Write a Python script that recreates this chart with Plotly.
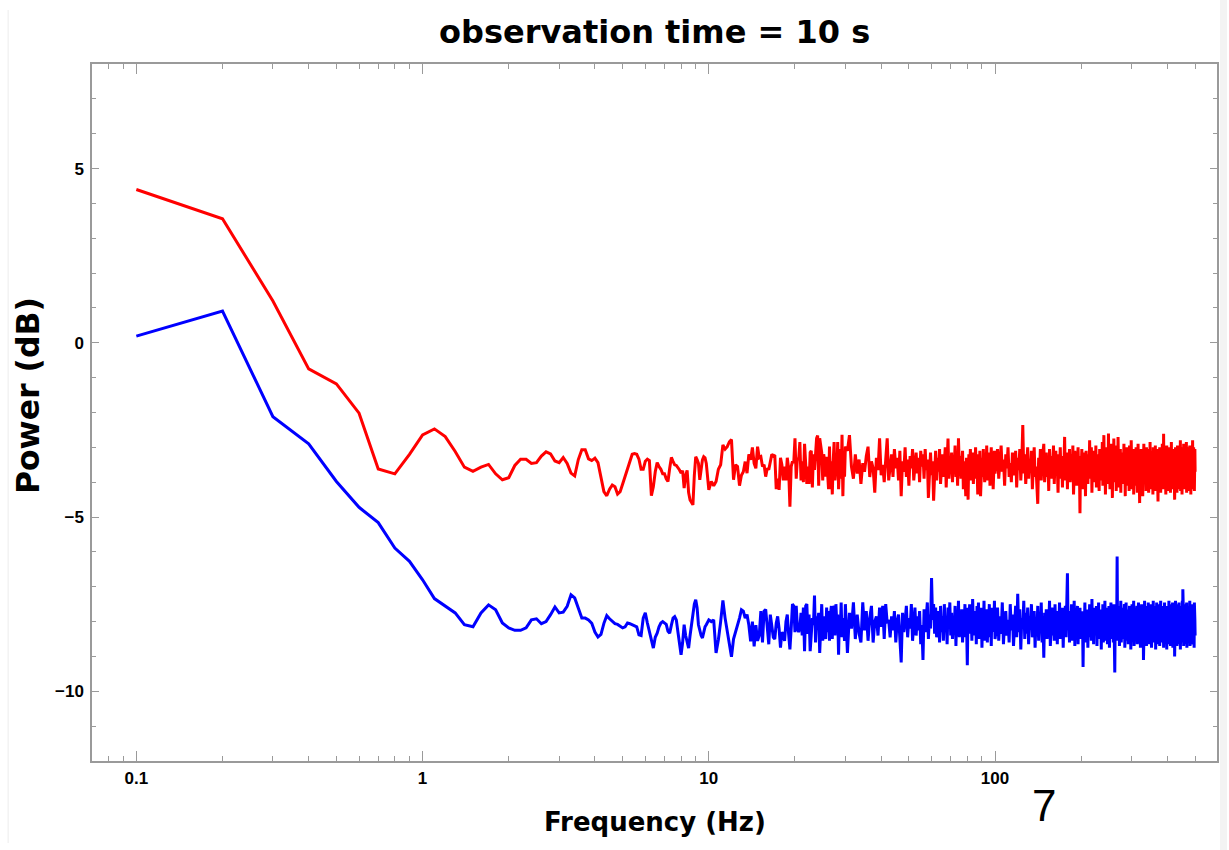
import numpy as np
import plotly.graph_objects as go

# ---------------- data ----------------
# frequency grids (Hz): 0.1 Hz bins up to 10 Hz, then coarser subsets of the bins
f_low = [round(0.1 * k, 1) for k in range(1, 101)]          # 0.1 .. 10.0
f_a = [round(10.0 + 0.2 * k, 1) for k in range(1, 101)]     # 10.2 .. 30.0
f_b = [round(30.0 + 0.5 * k, 1) for k in range(1, 141)]     # 30.5 .. 100.0
f_c = [float(100 + k) for k in range(1, 401)]               # 101 .. 500

red_low = [
    4.40, 3.56, 1.20, -0.75, -1.18, -2.02, -3.62, -3.76, -3.20, -2.64,
    -2.47, -2.69, -3.12, -3.57, -3.69, -3.57, -3.49, -3.76, -3.93, -3.87,
    -3.52, -3.34, -3.34, -3.46, -3.44, -3.25, -3.13, -3.19, -3.39, -3.44,
    -3.29, -3.46, -3.74, -3.82, -3.35, -3.07, -3.07, -3.33, -3.38, -3.31,
    -3.44, -3.84, -4.27, -4.39, -4.20, -4.08, -4.13, -4.34, -4.27, -4.05,
    -3.84, -3.65, -3.45, -3.20, -3.18, -3.20, -3.34, -3.63, -3.63, -3.40,
    -3.34, -3.38, -4.39, -4.13, -3.70, -3.44, -3.55, -3.63, -3.76, -3.76,
    -3.90, -3.98, -3.60, -3.29, -3.40, -3.50, -3.52, -3.57, -3.65, -3.74,
    -3.67, -4.17, -3.80, -3.66, -4.30, -4.51, -4.60, -4.65, -3.80, -3.27,
    -3.35, -3.46, -3.93, -3.70, -3.36, -3.27, -3.30, -3.46, -3.90, -4.22,
]
blue_low = [
    0.19, 0.91, -2.12, -2.90, -3.98, -4.72, -5.16, -5.89, -6.27, -6.80,
    -7.34, -7.56, -7.75, -8.09, -8.15, -7.75, -7.52, -7.66, -8.04, -8.18,
    -8.25, -8.25, -8.18, -7.95, -7.92, -8.06, -8.00, -7.80, -7.58, -7.75,
    -7.73, -7.56, -7.23, -7.32, -7.60, -7.90, -7.90, -7.95, -8.05, -8.30,
    -8.44, -8.37, -8.05, -7.83, -7.92, -8.00, -8.06, -8.08, -8.12, -8.18,
    -8.15, -8.04, -8.06, -8.09, -8.12, -8.15, -8.38, -8.40, -7.90, -7.75,
    -8.04, -8.30, -8.55, -8.76, -8.45, -8.33, -8.15, -8.04, -8.00, -8.05,
    -8.08, -8.28, -8.33, -8.10, -7.90, -7.86, -7.95, -8.30, -8.60, -8.95,
    -8.60, -8.09, -8.40, -8.60, -8.76, -8.40, -8.10, -7.80, -7.50, -7.37,
    -7.60, -8.09, -8.30, -8.40, -8.47, -8.30, -8.15, -8.09, -8.00, -7.95,
]

red_a = [
    -3.98, -4.10, -3.98, -3.63, -3.50, -2.93, -3.05, -2.98, -2.84, -2.78,
    -3.93, -3.50, -3.55, -4.10, -3.80, -3.70, -3.41, -3.74, -3.20, -3.36,
    -3.00, -3.46, -3.60, -2.98, -3.30, -3.27, -3.55, -3.50, -3.84, -3.60,
    -3.64, -3.40, -3.20, -3.25, -3.22, -4.20, -3.90, -4.22, -3.30, -3.50,
    -3.95, -3.55, -3.95, -3.30, -3.60, -4.70, -3.55, -3.40, -3.45, -2.74,
    -3.90, -3.30, -3.35, -2.85, -3.95, -3.40, -4.00, -2.90, -3.40, -4.05,
    -3.55, -4.05, -3.15, -3.10, -4.15, -3.20, -3.65, -3.15, -2.74, -2.66,
    -4.10, -2.74, -2.98, -3.15, -3.95, -3.20, -3.40, -3.84, -3.27, -3.65,
    -4.20, -2.98, -4.20, -3.40, -4.35, -3.40, -2.85, -3.95, -3.55, -3.80,
    -2.85, -4.20, -3.45, -3.05, -3.90, -2.64, -4.40, -3.30, -3.84, -2.98,
]
blue_a = [
    -8.00, -7.95, -8.90, -8.52, -8.00, -7.39, -7.90, -8.30, -8.60, -9.01,
    -8.50, -8.30, -8.15, -7.90, -7.66, -7.70, -7.90, -7.80, -8.10, -8.57,
    -8.00, -8.71, -8.10, -8.55, -8.40, -7.70, -8.60, -7.70, -7.65, -8.20,
    -8.65, -7.80, -8.20, -8.45, -8.50, -8.05, -7.85, -8.20, -8.75, -8.30,
    -8.40, -8.55, -8.00, -7.80, -8.35, -8.80, -8.20, -7.50, -7.55, -8.30,
    -7.55, -8.20, -8.30, -8.15, -7.75, -8.40, -7.60, -8.85, -7.55, -7.50,
    -8.35, -7.80, -8.85, -8.25, -7.90, -8.10, -7.25, -8.60, -7.85, -8.05,
    -7.75, -8.90, -7.80, -7.50, -8.55, -7.85, -8.35, -8.50, -7.60, -8.30,
    -7.70, -8.55, -7.80, -7.55, -8.50, -7.55, -7.60, -8.40, -7.50, -8.10,
    -7.80, -8.95, -7.85, -8.20, -7.45, -8.45, -7.90, -8.35, -8.55, -7.50,
]

red_b = [
    -3.10, -2.65, -3.55, -3.90, -3.20, -3.75, -3.35, -4.05, -3.45, -3.70,
    -3.25, -2.98, -3.85, -3.40, -3.60, -4.30, -3.30, -3.65, -2.74, -3.80,
    -3.50, -4.00, -3.35, -2.74, -3.95, -3.45, -3.20, -3.85, -3.05, -3.60,
    -3.30, -3.95, -3.10, -4.40, -3.40, -3.70, -3.00, -3.85, -3.35, -4.10,
    -3.25, -3.60, -3.05, -3.95, -3.40, -3.15, -3.75, -3.30, -4.00, -3.10,
    -3.55, -3.20, -3.90, -3.05, -3.65, -3.35, -4.45, -3.50, -3.15, -3.80,
    -3.40, -4.53, -3.55, -3.10, -3.95, -3.30, -3.70, -3.05, -4.05, -3.45,
    -3.20, -3.85, -3.50, -3.00, -4.15, -3.35, -2.75, -3.90, -3.45, -3.70,
    -3.15, -4.00, -3.40, -3.60, -2.95, -3.85, -3.30, -4.10, -2.74, -3.55,
    -3.25, -3.90, -3.50, -3.10, -4.20, -3.40, -3.75, -4.40, -3.30, -3.60,
    -4.50, -3.20, -3.70, -3.05, -3.95, -3.45, -3.15, -4.05, -3.35, -3.65,
    -3.00, -3.90, -3.50, -4.35, -3.20, -3.75, -3.10, -4.40, -3.45, -3.30,
    -3.85, -3.05, -3.60, -4.00, -3.25, -3.70, -2.95, -3.95, -3.40, -3.55,
    -3.15, -4.10, -3.50, -3.00, -3.80, -3.35, -4.20, -3.45, -3.10, -3.75,
]
blue_b = [
    -8.90, -7.75, -8.20, -7.45, -8.50, -7.80, -8.35, -8.60, -7.45, -8.25,
    -7.70, -8.55, -7.90, -7.55, -8.60, -8.00, -7.85, -8.40, -7.60, -8.15,
    -7.55, -8.50, -7.50, -8.05, -7.95, -8.45, -7.85, -8.25, -7.70, -8.60,
    -8.00, -7.80, -8.35, -9.17, -7.75, -8.30, -8.00, -7.55, -8.45, -7.90,
    -8.20, -7.50, -8.55, -7.95, -7.60, -8.40, -7.85, -8.25, -7.70, -8.65,
    -8.10, -9.10, -7.65, -8.30, -7.90, -7.45, -8.50, -7.80, -8.20, -6.75,
    -7.95, -7.50, -8.35, -7.60, -8.45, -8.05, -7.70, -8.60, -7.55, -8.30,
    -7.85, -8.55, -7.50, -8.20, -7.95, -8.65, -7.60, -8.10, -7.45, -8.40,
    -7.75, -8.50, -7.90, -8.25, -7.55, -8.70, -7.85, -8.15, -7.40, -8.45,
    -7.95, -8.30, -7.65, -8.60, -7.80, -8.10, -7.50, -8.45, -8.00, -9.25,
    -7.60, -8.35, -7.50, -8.20, -7.85, -8.55, -7.35, -8.10, -7.95, -8.40,
    -7.70, -8.65, -7.55, -8.25, -7.45, -8.50, -7.90, -8.15, -7.60, -8.75,
    -7.85, -8.30, -7.40, -8.55, -7.95, -8.20, -7.65, -8.60, -7.80, -8.05,
    -7.50, -8.45, -7.90, -8.70, -7.60, -8.30, -7.85, -8.15, -7.40, -8.50,
]

red_c = [
    -3.40, -3.05, -3.90, -3.25, -2.95, -3.70, -3.35, -4.10, -3.20, -3.60,
    -3.00, -3.85, -3.45, -4.00, -3.15, -3.55, -3.80, -3.10, -4.15, -3.30,
    -3.65, -3.05, -3.95, -3.40, -2.36, -3.75, -3.20, -4.05, -3.50, -3.00,
    -3.90, -3.35, -3.70, -3.10, -4.20, -3.45, -3.00, -3.85, -3.55, -4.10,
    -4.62, -3.30, -3.70, -3.05, -3.95, -3.40, -3.20, -2.90, -4.00, -3.50,
    -3.15, -3.85, -3.35, -4.25, -3.05, -3.60, -3.90, -3.25, -3.70, -2.95,
    -4.05, -3.45, -3.10, -3.80, -3.55, -4.30, -3.20, -3.65, -3.00, -3.90,
    -3.40, -4.15, -3.25, -3.60, -2.70, -3.95, -3.50, -3.15, -4.20, -3.35,
    -3.75, -3.05, -4.00, -3.45, -3.20, -3.85, -2.95, -4.35, -3.55, -3.10,
    -3.90, -3.30, -4.10, -3.60, -3.00, -3.75, -3.40, -4.89, -3.25, -3.65,
    -3.05, -4.20, -3.50, -3.15, -3.95, -3.35, -4.40, -3.10, -3.70, -3.45,
    -4.05, -3.20, -3.80, -2.80, -3.90, -3.55, -3.00, -4.30, -3.40, -3.65,
    -3.10, -4.00, -3.30, -3.75, -2.95, -4.15, -3.50, -3.20, -3.85, -3.40,
    -4.25, -3.05, -3.60, -3.95, -3.15, -3.70, -2.85, -4.10, -3.45, -2.65,
    -3.80, -3.25, -4.35, -3.50, -3.00, -3.90, -3.35, -4.05, -2.60, -3.75,
    -3.20, -4.20, -3.55, -2.90, -3.85, -3.40, -4.45, -3.10, -3.65, -2.75,
    -4.00, -3.30, -3.70, -2.95, -4.25, -3.50, -3.05, -3.90, -2.70, -3.60,
    -4.15, -3.35, -3.80, -3.05, -4.30, -3.45, -3.15, -3.95, -3.25, -4.05,
    -3.55, -2.90, -3.85, -3.40, -4.40, -3.10, -3.70, -3.00, -4.10, -3.50,
    -3.20, -3.95, -3.35, -4.25, -2.95, -3.75, -3.45, -4.05, -2.80, -3.65,
    -4.20, -3.30, -3.90, -3.05, -4.35, -3.55, -3.15, -3.85, -3.40, -4.10,
    -3.00, -3.70, -3.25, -4.30, -3.50, -2.90, -4.00, -3.35, -3.80, -4.60,
    -3.20, -3.95, -3.45, -3.05, -4.15, -3.60, -3.10, -4.40, -3.30, -3.75,
    -2.90, -4.05, -3.50, -3.20, -3.90, -3.40, -4.25, -3.00, -3.65, -4.10,
    -3.35, -3.85, -3.05, -4.30, -3.55, -3.15, -3.95, -2.85, -4.20, -3.45,
    -3.70, -3.10, -4.05, -3.40, -3.25, -4.35, -3.00, -3.80, -3.50, -4.15,
    -3.20, -3.90, -2.95, -4.25, -3.60, -3.30, -4.00, -3.05, -3.75, -3.45,
    -4.55, -3.15, -3.85, -3.40, -4.10, -3.00, -3.70, -3.25, -4.30, -3.55,
    -3.10, -4.05, -3.45, -2.90, -3.95, -3.35, -4.20, -2.61, -3.80, -3.50,
    -4.15, -3.05, -3.65, -3.30, -4.35, -3.15, -3.90, -2.95, -4.05, -3.45,
    -3.70, -3.20, -4.25, -3.00, -3.85, -3.40, -4.10, -3.10, -3.60, -4.30,
    -3.25, -3.95, -2.85, -4.00, -3.50, -3.15, -4.20, -3.35, -3.75, -3.05,
    -4.15, -3.45, -3.90, -4.50, -3.20, -3.65, -3.00, -4.05, -3.40, -3.80,
    -3.10, -4.30, -3.55, -2.95, -3.95, -3.30, -4.20, -3.05, -3.70, -3.45,
    -4.10, -3.15, -3.85, -2.80, -4.25, -3.50, -3.20, -3.90, -3.00, -4.35,
    -3.40, -3.75, -3.10, -4.05, -3.55, -2.90, -4.20, -3.30, -3.65, -3.95,
    -3.05, -4.15, -3.45, -3.20, -3.85, -2.85, -4.30, -3.50, -3.10, -3.90,
    -4.00, -3.35, -3.70, -3.00, -4.25, -3.45, -3.15, -3.80, -2.95, -4.10,
    -3.60, -3.25, -4.35, -3.05, -3.75, -3.40, -4.20, -3.10, -3.55, -2.80,
    -3.95, -3.30, -4.10, -3.00, -3.85, -3.50, -4.25, -3.15, -3.05, -3.70,
]
blue_c = [
    -8.20, -7.60, -8.55, -7.85, -8.35, -7.45, -8.65, -8.00, -7.70, -8.40,
    -7.95, -8.60, -7.50, -8.25, -7.80, -8.70, -8.05, -7.55, -8.45, -7.20,
    -8.30, -7.65, -8.80, -7.90, -8.15, -7.40, -8.50, -7.75, -8.35, -7.60,
    -8.65, -7.85, -8.20, -7.50, -8.45, -8.00, -7.70, -8.75, -7.95, -8.30,
    -7.55, -8.55, -7.80, -8.25, -7.45, -8.60, -7.90, -9.04, -7.75, -8.35,
    -7.65, -8.50, -7.85, -8.15, -7.40, -8.70, -8.05, -7.60, -8.40, -7.80,
    -8.55, -7.50, -8.30, -7.95, -8.65, -7.70, -8.20, -7.45, -8.50, -7.85,
    -8.35, -7.60, -8.75, -7.90, -8.10, -7.55, -8.45, -7.80, -6.61, -8.25,
    -7.70, -8.60, -7.95, -8.30, -7.50, -8.55, -7.85, -8.20, -7.40, -8.70,
    -7.75, -8.40, -8.00, -7.55, -8.65, -7.90, -8.25, -7.60, -8.50, -7.80,
    -8.35, -7.70, -9.30, -7.85, -8.15, -7.45, -8.60, -7.95, -8.30, -7.65,
    -8.75, -7.80, -8.20, -7.50, -8.45, -7.90, -8.55, -7.35, -8.25, -7.85,
    -8.65, -7.60, -8.40, -7.95, -8.10, -7.55, -8.70, -7.80, -8.35, -7.45,
    -8.50, -7.90, -8.20, -7.65, -8.80, -7.75, -8.30, -7.50, -8.60, -7.95,
    -8.15, -7.40, -8.55, -7.85, -8.40, -7.60, -8.65, -7.80, -8.25, -7.55,
    -8.75, -7.90, -8.35, -7.45, -8.50, -7.70, -8.20, -7.85, -8.60, -7.50,
    -8.30, -9.46, -7.80, -8.45, -7.65, -8.15, -6.13, -8.55, -7.75, -8.35,
    -7.55, -8.70, -7.90, -8.25, -7.40, -8.60, -7.85, -8.10, -7.60, -8.50,
    -7.95, -8.30, -7.50, -8.75, -7.80, -8.20, -7.45, -8.55, -7.90, -8.40,
    -7.65, -8.65, -7.85, -8.15, -7.55, -8.45, -7.75, -8.80, -7.95, -8.30,
    -7.50, -8.55, -7.80, -8.25, -7.40, -8.70, -7.90, -8.35, -7.60, -8.50,
    -7.85, -8.20, -7.55, -8.65, -7.75, -8.40, -7.45, -8.60, -7.95, -8.15,
    -7.60, -8.75, -7.85, -8.30, -7.50, -8.55, -7.80, -8.45, -7.65, -9.10,
    -7.90, -8.25, -7.40, -8.60, -7.85, -8.35, -7.55, -8.70, -7.75, -8.20,
    -7.95, -8.50, -7.45, -8.65, -7.80, -8.30, -7.60, -8.55, -7.90, -8.15,
    -7.50, -8.75, -7.85, -8.40, -7.65, -8.25, -7.40, -8.60, -7.95, -8.35,
    -7.70, -8.55, -7.55, -8.80, -7.90, -8.20, -7.45, -8.65, -7.80, -8.30,
    -7.60, -8.50, -7.85, -8.45, -7.50, -8.70, -7.75, -8.15, -7.40, -8.60,
    -7.95, -8.35, -7.55, -8.55, -7.80, -8.25, -7.65, -8.75, -7.90, -8.40,
    -7.45, -8.60, -7.85, -8.20, -7.55, -8.50, -7.70, -8.80, -7.95, -8.30,
    -7.60, -8.65, -7.80, -8.35, -7.40, -8.55, -7.90, -8.15, -7.50, -8.70,
    -7.85, -8.40, -7.65, -8.60, -7.75, -8.25, -7.45, -8.75, -7.95, -8.30,
    -7.55, -8.50, -7.80, -9.00, -7.70, -8.35, -7.40, -8.60, -7.90, -8.20,
    -7.65, -8.70, -7.85, -8.45, -7.50, -8.55, -7.75, -8.25, -7.45, -8.65,
    -7.90, -8.35, -7.60, -8.80, -7.80, -8.15, -7.55, -8.50, -7.85, -8.40,
    -7.40, -8.60, -7.07, -8.30, -7.75, -8.70, -7.60, -8.20, -7.95, -8.55,
    -7.50, -8.45, -7.85, -8.65, -7.70, -8.25, -7.45, -8.75, -7.90, -8.35,
    -7.65, -8.55, -7.80, -8.40, -7.55, -8.60, -7.95, -8.20, -7.40, -8.70,
    -7.85, -8.30, -7.60, -8.50, -7.75, -8.65, -7.50, -8.25, -7.90, -8.45,
    -7.70, -8.60, -7.55, -8.35, -7.85, -8.75, -7.45, -8.20, -7.95, -8.40,
]

freqs = f_low + f_a + f_b + f_c
red_power = red_low + red_a + red_b + red_c
blue_power = blue_low + blue_a + blue_b + blue_c

x_tick_vals = [0.1, 1, 10, 100]
x_tick_text = ["0.1", "1", "10", "100"]
x_minor_vals = [0.08, 0.09] + [m * d for d in (0.1, 1, 10) for m in range(2, 10)] + [200, 300, 400, 500]
y_tick_vals = [-10, -5, 0, 5]

TITLE = "observation time = 10 s"
X_LABEL = "Frequency (Hz)"
Y_LABEL = "Power (dB)"
PAGE_NUM = "7"

# ---------------- figure ----------------
fig = go.Figure()
fig.add_trace(go.Scatter(x=freqs, y=red_power, mode="lines",
                         line=dict(color="#ff0000", width=3), hoverinfo="skip"))
fig.add_trace(go.Scatter(x=freqs, y=blue_power, mode="lines",
                         line=dict(color="#0000ff", width=3), hoverinfo="skip"))

frame = "#9a9a9a"
W, H = 1229, 850
ml, mr, mt, mb = 92, 10, 64, 89
pw, ph = W - ml - mr, H - mt - mb

fig.update_layout(
    width=W, height=H,
    margin=dict(l=ml, r=mr, t=mt, b=mb, pad=0),
    paper_bgcolor="white", plot_bgcolor="white",
    showlegend=False,
    xaxis=dict(
        type="log", range=[-1.1549, 2.7754],
        showgrid=False, zeroline=False,
        showline=True, linecolor=frame, linewidth=1.5, mirror="allticks",
        ticks="inside", ticklen=10, tickwidth=1.2, tickcolor=frame,
        tickvals=x_tick_vals, ticktext=x_tick_text,
        tickfont=dict(family="Liberation Sans", size=17, color="black", weight="bold"),
        ticklabelstandoff=1,
        minor=dict(tickvals=x_minor_vals, ticks="inside", ticklen=5.5,
                   tickwidth=1, tickcolor=frame, showgrid=False),
    ),
    yaxis=dict(
        range=[-12, 8],
        showgrid=False, zeroline=False,
        showline=True, linecolor=frame, linewidth=1.5, mirror="allticks",
        ticks="inside", ticklen=7.5, tickwidth=1.2, tickcolor=frame,
        tickvals=y_tick_vals,
        tickfont=dict(family="Liberation Sans", size=17, color="black", weight="bold"),
        ticklabelstandoff=3,
        minor=dict(dtick=1, ticks="inside", ticklen=4.5, tickwidth=1,
                   tickcolor=frame, showgrid=False),
    ),
)

def px_x(px):
    return (px - ml) / pw

def px_y(py):
    return (H - mb - py) / ph

# faint page edges seen in the reference
fig.add_shape(type="line", xref="paper", yref="paper",
              x0=px_x(8), x1=px_x(8), y0=px_y(10), y1=px_y(843),
              line=dict(color="#ececec", width=1))
fig.add_shape(type="rect", xref="paper", yref="paper",
              x0=px_x(1222), x1=px_x(1229), y0=px_y(0), y1=px_y(850),
              line=dict(width=0), fillcolor="#f3f3f3")

fig.add_annotation(text=TITLE, xref="paper", yref="paper", x=px_x(655.5), y=px_y(32),
                   showarrow=False, xanchor="center", yanchor="middle",
                   font=dict(family="DejaVu Sans", size=32, color="black", weight="bold"))
fig.add_annotation(text=X_LABEL, xref="paper", yref="paper", x=px_x(656), y=px_y(822),
                   showarrow=False, xanchor="center", yanchor="middle",
                   font=dict(family="DejaVu Sans", size=26, color="black", weight="bold"))
fig.add_annotation(text=Y_LABEL, xref="paper", yref="paper", x=px_x(28), y=px_y(396),
                   showarrow=False, xanchor="center", yanchor="middle", textangle=-90,
                   font=dict(family="DejaVu Sans", size=31.5, color="black", weight="bold"))
fig.add_annotation(text=PAGE_NUM, xref="paper", yref="paper", x=px_x(1046), y=px_y(806),
                   showarrow=False, xanchor="center", yanchor="middle",
                   font=dict(family="Liberation Sans", size=44, color="black"))

fig.write_html(
    "out.html",
    config={"displayModeBar": False},
    post_script="document.body.style.margin='0';document.body.style.overflow='hidden';",
)
